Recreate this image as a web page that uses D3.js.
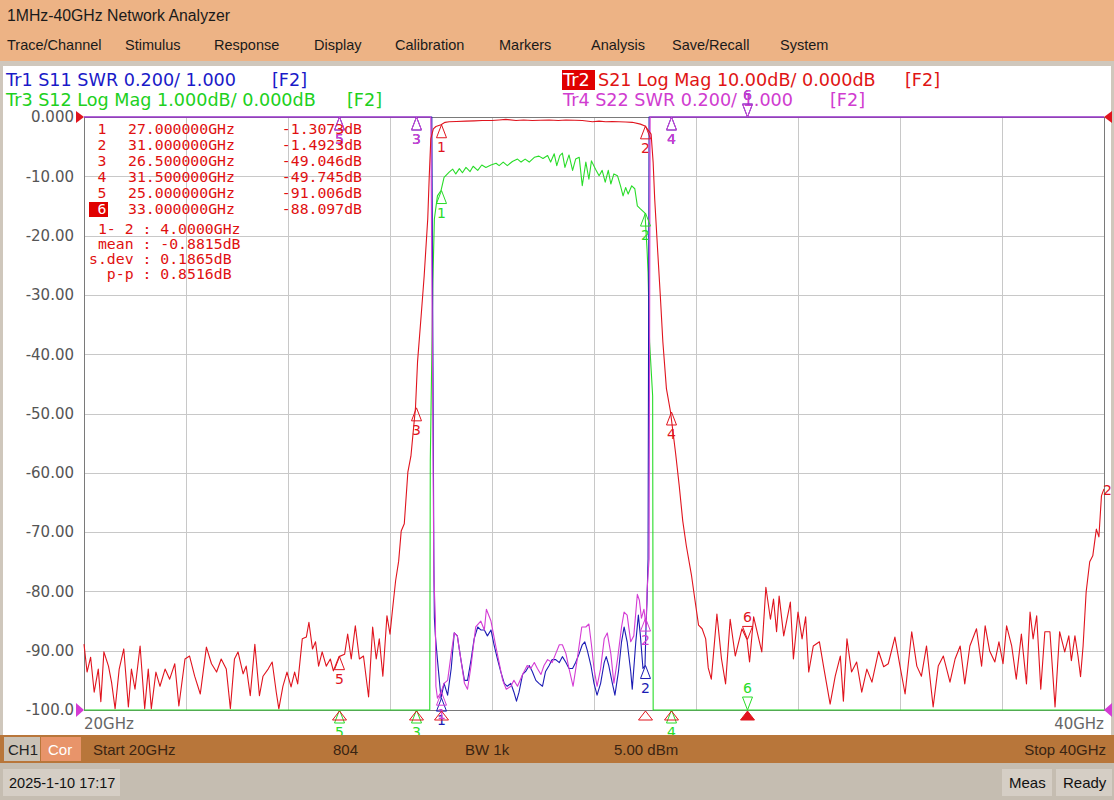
<!DOCTYPE html>
<html><head><meta charset="utf-8">
<script src="https://cdn.jsdelivr.net/npm/d3@7"></script>
<style>
html,body{margin:0;padding:0;overflow:hidden;background:#fff}
text{white-space:pre}
</style>
</head><body>
<svg id="c" width="1114" height="800"></svg>
<script>
// ---------------- DATA ----------------
const titleText = "1MHz-40GHz Network Analyzer";
const menuItems = ["Trace/Channel","Stimulus","Response","Display","Calibration","Markers","Analysis","Save/Recall","System"];
const yTickValues = [0,-10,-20,-30,-40,-50,-60,-70,-80,-90,-100];
const yTickLabels = ["0.000","-10.00","-20.00","-30.00","-40.00","-50.00","-60.00","-70.00","-80.00","-90.00","-100.0"];
const xGridValues = [22,24,26,28,30,32,34,36,38];
const startGHz = 20, stopGHz = 40;

// Tr2 S21 (dB, 10 dB/div)
const s21Freq = [20.00,20.06,20.13,20.20,20.28,20.33,20.39,20.48,20.54,20.61,20.69,20.78,20.87,20.93,21.00,21.10,21.19,21.26,21.32,21.41,21.49,21.59,21.68,21.78,21.86,21.98,22.07,22.17,22.28,22.40,22.50,22.60,22.69,22.79,22.87,22.95,23.02,23.12,23.18,23.26,23.35,23.44,23.51,23.61,23.69,23.77,23.82,23.90,23.98,24.06,24.13,24.19,24.28,24.36,24.41,24.48,24.54,24.60,24.67,24.75,24.83,24.89,25.00,25.11,25.17,25.24,25.32,25.40,25.48,25.58,25.66,25.73,25.79,25.86,25.94,26.00,26.05,26.11,26.17,26.22,26.28,26.35,26.41,26.50,26.54,26.61,26.67,26.74,26.77,26.80,26.85,26.90,27.00,27.08,27.16,27.30,27.49,27.65,27.81,28.00,28.14,28.27,28.47,28.62,28.79,28.95,29.12,29.30,29.45,29.62,29.77,29.97,30.10,30.23,30.36,30.49,30.62,30.75,30.91,31.00,31.12,31.16,31.19,31.25,31.30,31.35,31.42,31.50,31.60,31.67,31.74,31.81,31.91,31.98,32.05,32.12,32.19,32.24,32.30,32.41,32.50,32.58,32.67,32.77,32.90,33.00,33.05,33.13,33.29,33.37,33.46,33.52,33.58,33.63,33.72,33.85,33.91,34.00,34.08,34.15,34.21,34.30,34.42,34.50,34.63,34.73,34.83,34.89,34.96,35.05,35.15,35.25,35.35,35.45,35.58,35.68,35.77,35.90,36.00,36.10,36.23,36.33,36.42,36.52,36.65,36.75,36.85,36.98,37.08,37.18,37.27,37.37,37.50,37.60,37.67,37.76,37.86,37.94,38.02,38.09,38.19,38.28,38.38,38.48,38.55,38.61,38.68,38.76,38.84,38.94,39.04,39.13,39.23,39.31,39.36,39.43,39.49,39.54,39.59,39.65,39.72,39.78,39.85,39.90,39.95,40.00];
const s21dB = [-88.9,-93.6,-91.1,-97.0,-93.1,-98.6,-90.2,-92.6,-95.3,-99.8,-93.1,-89.7,-99.5,-93.1,-96.5,-89.2,-99.8,-93.1,-99.8,-93.6,-96.0,-93.1,-94.8,-92.2,-99.3,-91.4,-90.9,-94.3,-97.3,-89.4,-92.2,-93.6,-91.4,-93.1,-99.8,-91.4,-90.2,-93.9,-92.6,-97.6,-88.9,-97.6,-94.3,-93.1,-91.9,-97.0,-99.8,-96.0,-93.6,-96.1,-93.6,-95.6,-88.0,-87.7,-85.2,-89.7,-88.5,-92.6,-90.2,-92.6,-91.4,-93.4,-91.0,-90.6,-87.2,-91.4,-85.8,-91.4,-90.9,-97.8,-86.0,-91.4,-88.0,-94.3,-84.1,-87.2,-83.0,-78.2,-74.9,-69.8,-68.6,-59.9,-57.2,-49.0,-41.3,-33.6,-26.8,-17.2,-9.9,-3.7,-2.0,-1.6,-1.3,-0.9,-0.8,-0.75,-0.7,-0.65,-0.6,-0.6,-0.5,-0.4,-0.6,-0.5,-0.6,-0.55,-0.5,-0.6,-0.5,-0.55,-0.6,-0.8,-0.7,-0.8,-0.75,-0.8,-0.85,-0.9,-1.2,-1.5,-2.9,-7.7,-13.8,-22.8,-30.1,-37.9,-45.8,-49.7,-56.7,-62.1,-68.1,-72.3,-77.2,-81.5,-85.7,-86.3,-88.0,-92.9,-94.8,-83.8,-91.4,-95.6,-84.7,-90.9,-86.3,-88.1,-91.9,-84.3,-90.2,-79.3,-84.7,-81.3,-86.8,-80.8,-87.5,-81.8,-91.4,-83.5,-88.0,-84.3,-93.6,-89.2,-88.5,-92.6,-99.0,-94.3,-90.9,-98.5,-88.0,-93.6,-91.9,-97.0,-93.1,-95.3,-90.1,-92.7,-92.2,-87.7,-92.6,-97.3,-86.8,-92.6,-94.3,-89.2,-99.5,-92.6,-90.9,-95.3,-91.4,-89.2,-95.6,-89.2,-86.3,-92.6,-85.8,-90.1,-91.9,-88.5,-92.2,-85.8,-89.2,-94.8,-87.2,-95.6,-83.5,-88.0,-84.1,-96.5,-86.8,-86.8,-99.5,-86.8,-90.2,-87.5,-91.7,-87.5,-90.9,-94.4,-89.2,-80.1,-75.0,-74.0,-69.5,-70.8,-63.9,-62.7];

// Tr3 S12 (dB, 1 dB/div) - out-of-band values are off-scale estimates
const s12Freq = [20.00,23.00,26.00,26.78,26.79,26.84,26.87,26.93,27.00,27.06,27.16,27.23,27.29,27.36,27.42,27.49,27.57,27.63,27.72,27.80,27.88,27.98,28.08,28.14,28.22,28.30,28.40,28.50,28.57,28.65,28.73,28.83,28.92,29.00,29.09,29.15,29.22,29.27,29.33,29.38,29.43,29.51,29.58,29.64,29.71,29.77,29.84,29.90,29.95,30.03,30.10,30.16,30.22,30.28,30.33,30.39,30.46,30.52,30.57,30.62,30.67,30.74,30.80,30.85,30.91,31.00,31.02,31.04,31.06,31.09,31.15,31.16,34.00,37.00,40.00];
const s12dB = [-14,-13,-12,-11,-5.8,-2.8,-1.72,-1.33,-1.24,-1.02,-0.93,-0.88,-0.96,-0.87,-0.94,-0.85,-0.92,-0.83,-0.90,-0.81,-0.85,-0.81,-0.78,-0.82,-0.76,-0.82,-0.75,-0.71,-0.76,-0.71,-0.76,-0.68,-0.66,-0.70,-0.65,-0.76,-0.62,-0.82,-0.65,-0.61,-0.85,-0.64,-0.90,-0.71,-0.68,-1.16,-0.76,-1.05,-0.74,-0.88,-0.99,-0.90,-1.10,-0.90,-1.13,-0.96,-0.99,-1.16,-1.33,-1.19,-1.30,-1.16,-1.21,-1.50,-1.55,-1.62,-1.94,-2.23,-2.62,-3.8,-4.7,-11,-12,-13,-14];

// Tr1 S11 (SWR, 0.2/div) - out-of-band values are off-scale estimates
const s11Freq = [20.00,26.00,26.82,26.86,26.87,26.89,26.93,27.00,27.06,27.13,27.20,27.26,27.32,27.39,27.46,27.52,27.59,27.65,27.72,27.78,27.85,27.91,27.98,28.04,28.11,28.17,28.24,28.30,28.37,28.43,28.48,28.53,28.60,28.66,28.73,28.79,28.86,28.92,28.99,29.05,29.12,29.18,29.25,29.32,29.38,29.45,29.51,29.58,29.64,29.71,29.77,29.82,29.87,29.94,30.00,30.06,30.13,30.20,30.24,30.29,30.36,30.41,30.48,30.54,30.59,30.65,30.72,30.75,30.82,30.87,30.91,30.96,31.00,31.02,31.04,31.06,31.08,34.00,40.00];
const s11SWR = [5.0,5.0,4.0,1.50,1.31,1.25,1.17,1.04,1.09,1.05,1.14,1.26,1.25,1.17,1.10,1.10,1.17,1.24,1.28,1.27,1.27,1.25,1.27,1.22,1.17,1.13,1.09,1.08,1.09,1.06,1.03,1.06,1.12,1.13,1.15,1.13,1.10,1.09,1.08,1.13,1.15,1.17,1.17,1.16,1.18,1.16,1.14,1.14,1.16,1.19,1.22,1.23,1.20,1.15,1.09,1.05,1.09,1.16,1.18,1.15,1.09,1.05,1.13,1.23,1.28,1.23,1.13,1.07,1.23,1.32,1.25,1.14,1.15,1.28,1.37,1.51,4.0,5.0,5.0];

// Tr4 S22 (SWR, 0.2/div) - out-of-band values are off-scale estimates
const s22Freq = [20.00,26.00,26.80,26.86,26.89,26.90,26.93,27.00,27.06,27.13,27.20,27.26,27.32,27.39,27.46,27.52,27.59,27.68,27.78,27.85,27.89,27.98,28.08,28.14,28.21,28.28,28.37,28.43,28.50,28.60,28.69,28.76,28.83,28.89,28.96,29.02,29.09,29.18,29.25,29.32,29.38,29.45,29.51,29.59,29.67,29.76,29.84,29.90,29.95,30.00,30.06,30.13,30.20,30.26,30.33,30.39,30.46,30.54,30.59,30.65,30.72,30.78,30.85,30.89,30.93,30.98,31.02,31.04,31.08,31.10,34.00,40.00];
const s22SWR = [5.0,5.0,4.0,1.45,1.31,1.08,1.04,1.06,1.09,1.10,1.19,1.26,1.25,1.17,1.09,1.07,1.15,1.28,1.30,1.27,1.34,1.30,1.21,1.16,1.10,1.07,1.08,1.10,1.08,1.12,1.15,1.14,1.16,1.14,1.12,1.15,1.17,1.16,1.19,1.22,1.22,1.19,1.14,1.08,1.17,1.28,1.28,1.29,1.22,1.14,1.08,1.14,1.24,1.26,1.19,1.09,1.17,1.28,1.33,1.32,1.23,1.25,1.39,1.37,1.31,1.34,1.28,1.40,1.51,4.0,5.0,5.0];

// Markers (stimulus GHz) and Tr2 readout
const markerIds = ["1","2","3","4","5","6"];
const markerFreqs = [27.0,31.0,26.5,31.5,25.0,33.0];
const markerFreqLabels = ["27.000000GHz","31.000000GHz","26.500000GHz","31.500000GHz","25.000000GHz","33.000000GHz"];
const markerS21 = [-1.3073,-1.4923,-49.046,-49.745,-91.006,-88.097];
const markerS21Labels = ["-1.3073dB","-1.4923dB","-49.046dB","-49.745dB","-91.006dB","-88.097dB"];
const activeMarker = "6";
const statLines = [" 1- 2 : 4.0000GHz"," mean : -0.8815dB","s.dev : 0.1865dB","  p-p : 0.8516dB"];

const trHeaders = [
  {id:"Tr1", text:"S11 SWR 0.200/ 1.000", f:"[F2]"},
  {id:"Tr3", text:"S12 Log Mag 1.000dB/ 0.000dB", f:"[F2]"},
  {id:"Tr2", text:"S21 Log Mag 10.00dB/ 0.000dB", f:"[F2]"},
  {id:"Tr4", text:"S22 SWR 0.200/ 1.000", f:"[F2]"}
];
const statusItems = ["Start 20GHz","804","BW 1k","5.00 dBm","Stop 40GHz"];
const dateText = "2025-1-10 17:17";

// ---------------- DRAW ----------------
const COL = {red:"#e0141e", green:"#28dc28", blue:"#1c1cb4", mag:"#d43cd4",
             hdrBlue:"#1a1ac8", hdrGreen:"#20d020", hdrRed:"#e01414", hdrMag:"#d03cd0"};
const svg = d3.select("#c");
const L=84, R=1104, T=117, B=710;

svg.append("rect").attr("width",1114).attr("height",800).attr("fill","#ffffff");
// title + menu
svg.append("rect").attr("x",0).attr("y",0).attr("width",1114).attr("height",61).attr("fill","#edb385");
svg.append("rect").attr("x",0).attr("y",61).attr("width",1114).attr("height",5).attr("fill","#cfc7bc");
svg.append("rect").attr("x",0).attr("y",66).attr("width",3).attr("height",700).attr("fill","#cfc7bc");
svg.append("rect").attr("x",1111).attr("y",66).attr("width",3).attr("height",700).attr("fill","#cfc7bc");
svg.append("text").attr("x",7).attr("y",21).attr("font-family","Liberation Sans, Arial").attr("font-size",15.8)
  .attr("fill","#1a1a1a").text(titleText);
const menuX = [7,125,214,314,395,499,591,672,780];
svg.selectAll("text.menu").data(menuItems).join("text").attr("class","menu")
  .attr("x",(d,i)=>menuX[i]).attr("y",50).attr("font-family","Liberation Sans, Arial").attr("font-size",14.5)
  .attr("fill","#1a1a1a").text(d=>d);

// trace headers
const hdrFont = "DejaVu Sans, Verdana";
const hdrFS = 17.6;
function header(x, y, h, col, fx, boxed){
  const g = svg.append("g");
  if(boxed){
    g.append("rect").attr("x",x-1).attr("y",y-16).attr("width",33).attr("height",20).attr("fill","#e00000");
    g.append("text").attr("x",x).attr("y",y).attr("font-family",hdrFont).attr("font-size",hdrFS).attr("fill","#fff").text(h.id);
    g.append("text").attr("x",x+35).attr("y",y).attr("font-family",hdrFont).attr("font-size",hdrFS).attr("fill",col).text(h.text);
  } else {
    g.append("text").attr("x",x).attr("y",y).attr("font-family",hdrFont).attr("font-size",hdrFS).attr("fill",col).text(h.id+" "+h.text);
  }
  g.append("text").attr("x",fx).attr("y",y).attr("font-family",hdrFont).attr("font-size",hdrFS).attr("fill",col).text(h.f);
}
header(6,86,trHeaders[0],COL.hdrBlue,272,false);
header(6,106,trHeaders[1],COL.hdrGreen,347,false);
header(563,86,trHeaders[2],COL.hdrRed,905,true);
header(563,106,trHeaders[3],COL.hdrMag,830,false);

// scales
const x = d3.scaleLinear().domain([startGHz,stopGHz]).range([L,R]);
const yDb = d3.scaleLinear().domain([-100,0]).range([B,T]).clamp(true);
const yS12 = d3.scaleLinear().domain([-10,0]).range([B,T]).clamp(true);
const ySwr = d3.scaleLinear().domain([1,3]).range([B,T]).clamp(true);

// grid
const plot = svg.append("g");
plot.append("g").attr("transform",`translate(${L},0)`)
  .call(d3.axisLeft(yDb).tickValues(yTickValues.slice(1,-1)).tickSize(-(R-L)).tickFormat(""))
  .call(g=>g.select(".domain").remove())
  .call(g=>g.selectAll("line").attr("stroke","#c8c8c8").attr("stroke-width",1).attr("shape-rendering","crispEdges"));
plot.append("g").attr("transform",`translate(0,${B})`)
  .call(d3.axisBottom(x).tickValues(xGridValues).tickSize(-(B-T)).tickFormat(""))
  .call(g=>g.select(".domain").remove())
  .call(g=>g.selectAll("line").attr("stroke","#c8c8c8").attr("stroke-width",1).attr("shape-rendering","crispEdges"));
plot.append("rect").attr("x",L).attr("y",T).attr("width",R-L).attr("height",B-T)
  .attr("fill","none").attr("stroke","#7a7a7a").attr("stroke-width",1).attr("shape-rendering","crispEdges");

// y labels
plot.append("g").attr("transform",`translate(${L-10},0)`)
  .call(d3.axisLeft(yDb).tickValues(yTickValues).tickSize(0).tickPadding(0).tickFormat((d,i)=>yTickLabels[i]))
  .call(g=>g.select(".domain").remove())
  .call(g=>g.selectAll("text").attr("font-family","DejaVu Sans, Verdana").attr("font-size",15).attr("fill","#555"));
plot.append("text").attr("x",L).attr("y",729).attr("font-family","DejaVu Sans, Verdana").attr("font-size",15).attr("fill","#666").text(startGHz+"GHz");
plot.append("text").attr("x",R).attr("y",729).attr("text-anchor","end").attr("font-family","DejaVu Sans, Verdana").attr("font-size",15).attr("fill","#666").text(stopGHz+"GHz");

// traces
function trace(fr, vals, ys, col){
  const line = d3.line().x(d=>x(d[0])).y(d=>ys(d[1]));
  svg.append("path").datum(fr.map((f,i)=>[f,vals[i]])).attr("d",line)
    .attr("fill","none").attr("stroke",col).attr("stroke-width",1.1).attr("stroke-linejoin","round");
}
trace(s12Freq,s12dB,yS12,COL.green);
trace(s11Freq,s11SWR,ySwr,COL.blue);
trace(s22Freq,s22SWR,ySwr,COL.mag);
trace(s21Freq,s21dB,yDb,COL.red);

// marker glyphs
function interp(fr, vals, f){
  const i = d3.bisectLeft(fr,f);
  if(i<=0) return vals[0];
  if(i>=fr.length) return vals[vals.length-1];
  const t=(f-fr[i-1])/(fr[i]-fr[i-1]);
  return vals[i-1]+t*(vals[i]-vals[i-1]);
}
const mg = svg.append("g");
function mUp(px,py,lab,col){
  mg.append("path").attr("d",`M${px},${py}L${px-5},${py+13}L${px+5},${py+13}Z`).attr("fill","none").attr("stroke",col).attr("stroke-width",1);
  mg.append("text").attr("x",px).attr("y",py+27).attr("text-anchor","middle").attr("font-family","DejaVu Sans, Verdana").attr("font-size",14).attr("fill",col).text(lab);
}
function mDown(px,py,lab,col){
  mg.append("path").attr("d",`M${px},${py}L${px-5},${py-13}L${px+5},${py-13}Z`).attr("fill","none").attr("stroke",col).attr("stroke-width",1);
  mg.append("text").attr("x",px).attr("y",py-17).attr("text-anchor","middle").attr("font-family","DejaVu Sans, Verdana").attr("font-size",14).attr("fill",col).text(lab);
}
function markersFor(fr, vals, ys, col, fixed){
  markerIds.forEach((id,i)=>{
    const f = markerFreqs[i];
    const v = fixed ? fixed[i] : interp(fr,vals,f);
    const px = Math.round(x(f))+0.5, py = ys(v);
    if(id===activeMarker) mDown(px,py,id,col); else mUp(px,py,id,col);
  });
}
markersFor(s11Freq,s11SWR,ySwr,COL.blue);
markersFor(s22Freq,s22SWR,ySwr,COL.mag);
markersFor(s12Freq,s12dB,yS12,COL.green);
markersFor(s21Freq,s21dB,yDb,COL.red,markerS21);
// stimulus indicators on x-axis for active trace
markerIds.forEach((id,i)=>{
  const px = Math.round(x(markerFreqs[i]))+0.5;
  const p = mg.append("path").attr("d",`M${px},${B+1}L${px-7},${B+10}L${px+7},${B+10}Z`).attr("stroke",COL.red).attr("stroke-width",1);
  if(id===activeMarker) p.attr("fill",COL.red); else p.attr("fill","none");
});
// reference arrows
mg.append("path").attr("d",`M${L-8},${T-6}L${L},${T}L${L-8},${T+6}Z`).attr("fill",COL.red);
mg.append("path").attr("d",`M${L-8},${B-7}L${L},${B}L${L-8},${B+7}Z`).attr("fill",COL.mag);
mg.append("path").attr("d",`M${R+8},${T-6}L${R},${T}L${R+8},${T+6}Z`).attr("fill",COL.red);
mg.append("path").attr("d",`M${R+8},${B-7}L${R},${B}L${R+8},${B+7}Z`).attr("fill",COL.mag);
mg.append("text").attr("x",R-1).attr("y",yDb(s21dB[s21dB.length-1])+6).attr("font-family","DejaVu Sans, Verdana").attr("font-size",14).attr("fill",COL.red).text("2");

// marker table
const tg = svg.append("g").attr("font-family","DejaVu Sans Mono, monospace").attr("font-size",14.8).attr("fill","#e01010");
markerIds.forEach((id,i)=>{
  const yy = 134 + i*16;
  if(id===activeMarker){
    tg.append("rect").attr("x",89).attr("y",yy-12).attr("width",19).attr("height",15).attr("fill","#e00000");
    tg.append("text").attr("x",102).attr("y",yy).attr("text-anchor","middle").attr("fill","#fff").text(id);
  } else {
    tg.append("text").attr("x",102).attr("y",yy).attr("text-anchor","middle").text(id);
  }
  tg.append("text").attr("x",128).attr("y",yy).text(markerFreqLabels[i]);
  tg.append("text").attr("x",362).attr("y",yy).attr("text-anchor","end").text(markerS21Labels[i]);
});
statLines.forEach((s,i)=>{
  tg.append("text").attr("x",89).attr("y",234+i*15).text(s);
});

// bottom bar
svg.append("rect").attr("x",0).attr("y",735).attr("width",1114).attr("height",28).attr("fill","#b8763a");
svg.append("rect").attr("x",0).attr("y",763).attr("width",1114).attr("height",37).attr("fill","#c5bdb1");
svg.append("rect").attr("x",4).attr("y",737).attr("width",36).attr("height",24).attr("fill","#cac2b6");
svg.append("rect").attr("x",41).attr("y",737).attr("width",40).attr("height",24).attr("fill","#e8946a");
const bf = "Liberation Sans, Arial";
svg.append("text").attr("x",8).attr("y",755).attr("font-family",bf).attr("font-size",15).attr("fill","#222").text("CH1");
svg.append("text").attr("x",48).attr("y",755).attr("font-family",bf).attr("font-size",15).attr("fill","#fff").text("Cor");
const statusX = [93,333,465,614,1106];
statusItems.forEach((s,i)=>{
  svg.append("text").attr("x",statusX[i]).attr("y",755).attr("text-anchor",i===4?"end":"start")
    .attr("font-family",bf).attr("font-size",15).attr("fill","#3a2412").text(s);
});
svg.append("rect").attr("x",3).attr("y",769).attr("width",117).attr("height",27).attr("fill","#d5cec5");
svg.append("text").attr("x",9).attr("y",788).attr("font-family",bf).attr("font-size",14.5).attr("fill","#111").text(dateText);
svg.append("rect").attr("x",1002).attr("y",769).attr("width",50).attr("height",27).attr("fill","#d5cec5");
svg.append("rect").attr("x",1056).attr("y",769).attr("width",56).attr("height",27).attr("fill","#d5cec5");
svg.append("text").attr("x",1009).attr("y",788).attr("font-family",bf).attr("font-size",15).attr("fill","#111").text("Meas");
svg.append("text").attr("x",1063).attr("y",788).attr("font-family",bf).attr("font-size",15).attr("fill","#111").text("Ready");
</script>
</body></html>
